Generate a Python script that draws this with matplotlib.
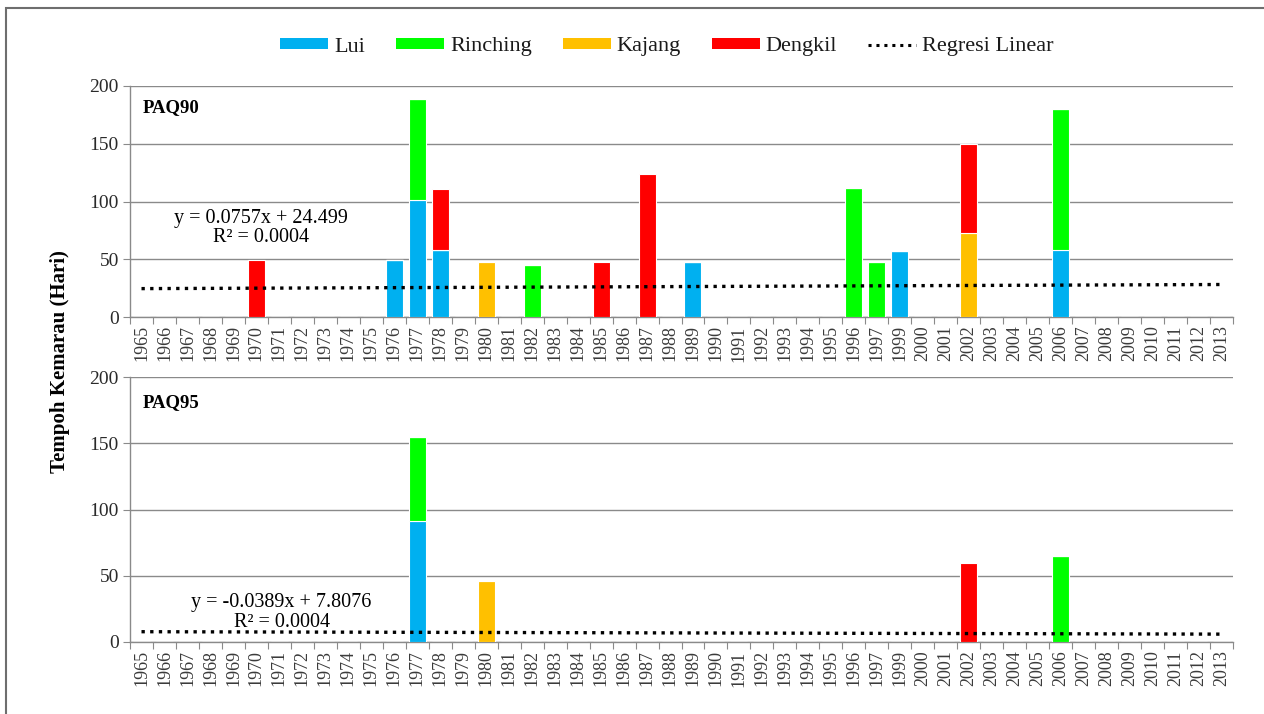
import matplotlib
matplotlib.use("Agg")
import matplotlib.pyplot as plt
from matplotlib.patches import Patch, Rectangle
from matplotlib.lines import Line2D

years = [str(y) for y in range(1965, 1998)] + [str(y) for y in range(1999, 2014)]

series_names = ["Lui", "Rinching", "Kajang", "Dengkil"]
series_colors = ["#00B0F0", "#00FF00", "#FFC000", "#FF0000"]

# PAQ90 (top panel)
paq90_lui = {"1976": 49, "1977": 101, "1978": 58, "1989": 48, "1999": 57, "2006": 58}
paq90_rinching = {"1977": 88, "1982": 45, "1996": 112, "1997": 48, "2006": 122}
paq90_kajang = {"1980": 48, "2002": 73}
paq90_dengkil = {"1970": 49, "1978": 53, "1985": 48, "1987": 124, "2002": 77}
paq90_slope, paq90_intercept = 0.0757, 24.499
paq90_eq = "y = 0.0757x + 24.499\nR² = 0.0004"

# PAQ95 (bottom panel)
paq95_lui = {"1977": 91}
paq95_rinching = {"1977": 64, "2006": 65}
paq95_kajang = {"1980": 46}
paq95_dengkil = {"2002": 60}
paq95_slope, paq95_intercept = -0.0389, 7.8076
paq95_eq = "y = -0.0389x + 7.8076\nR² = 0.0004"

serif = ["Liberation Serif", "DejaVu Serif"]

W, H = 1264, 714
fig = plt.figure(figsize=(W / 100, H / 100), dpi=100)

def px_axes(x0, y0, x1, y1):
    return fig.add_axes([x0 / W, 1 - y1 / H, (x1 - x0) / W, (y1 - y0) / H])

ax_top = px_axes(130, 86, 1233, 317)
ax_bot = px_axes(130, 377, 1233, 642)

def draw_panel(ax, data, slope, intercept, eq, label, eq_xy):
    n = len(years)
    xs = list(range(n))
    bottom = [0.0] * n
    for d, c in zip(data, series_colors):
        vals = [d.get(y, 0) for y in years]
        ax.bar(xs, vals, width=0.74, bottom=bottom, color=c, edgecolor="white",
               linewidth=0.8, zorder=3)
        bottom = [b + v for b, v in zip(bottom, vals)]
    tx = list(range(1, n + 1))
    ty = [slope * t + intercept for t in tx]
    ax.plot(xs, ty, color="black", linestyle=(0, (1, 1.6)), linewidth=2.4, zorder=4)
    ax.set_xlim(-0.5, n - 0.5)
    ax.set_ylim(0, 200)
    ax.set_yticks([0, 50, 100, 150, 200])
    ax.yaxis.grid(True, color="#8a8a8a", linewidth=1.0, zorder=0)
    ax.set_axisbelow(True)
    for s in ["top", "right"]:
        ax.spines[s].set_visible(False)
    for s in ["left", "bottom"]:
        ax.spines[s].set_color("#8a8a8a")
        ax.spines[s].set_linewidth(1.0)
    ax.tick_params(axis="y", length=5, color="#8a8a8a", labelsize=14, pad=3,
                   labelcolor="#2a2a2a")
    for t in ax.get_yticklabels():
        t.set_fontfamily(serif)
    ax.set_xticks([i - 0.5 for i in range(n + 1)])
    ax.set_xticklabels([])
    ax.set_xticks(xs, minor=True)
    ax.set_xticklabels(years, minor=True, rotation=90, fontsize=13,
                       fontfamily=serif, color="#3a3a3a")
    ax.tick_params(axis="x", which="major", length=5, color="#8a8a8a", direction="out")
    ax.tick_params(axis="x", which="minor", length=0, pad=6)
    ax.text(0.05, 181, label, fontsize=13.5, fontweight="bold", family=serif,
            ha="left", va="center", zorder=5)
    ax.text(eq_xy[0], eq_xy[1], eq, fontsize=14.5, family=serif, ha="center",
            va="center", linespacing=1.05, zorder=5)

draw_panel(ax_top, [paq90_lui, paq90_rinching, paq90_kajang, paq90_dengkil],
           paq90_slope, paq90_intercept, paq90_eq, "PAQ90", (5.2, 77))
draw_panel(ax_bot, [paq95_lui, paq95_rinching, paq95_kajang, paq95_dengkil],
           paq95_slope, paq95_intercept, paq95_eq, "PAQ95", (6.1, 22))

handles = [Patch(facecolor=c, edgecolor="none", label=nm) for c, nm in zip(series_colors, series_names)]
handles.append(Line2D([0], [0], color="black", linestyle=(0, (1, 1.6)), linewidth=2.2,
                      label="Regresi Linear"))
fig.legend(handles=handles, loc="center", bbox_to_anchor=(667 / W, 1 - 47 / H), ncol=5,
           frameon=False, prop={"family": serif, "size": 16}, handlelength=2.15,
           handleheight=0.32, handletextpad=0.27, columnspacing=1.4,
           labelcolor="#1a1a1a")

fig.text(60 / W, 1 - 362 / H, "Tempoh Kemarau (Hari)", rotation=90, fontsize=15,
         fontweight="bold", family=serif, ha="center", va="center")

fig.patches.append(Rectangle((6 / W, -0.02), 1.05, 1 - 8 / H + 0.02, transform=fig.transFigure,
                             fill=False, edgecolor="#6e6e6e", linewidth=1.5))

fig.savefig("out.png", dpi=100)
